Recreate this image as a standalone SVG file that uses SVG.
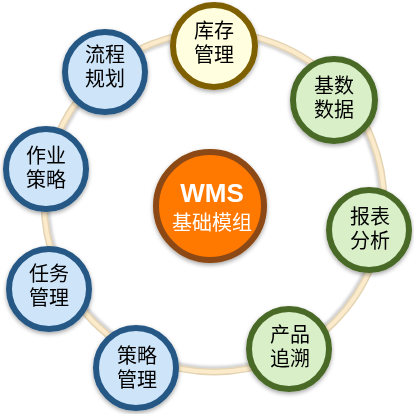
<svg xmlns="http://www.w3.org/2000/svg" width="414" height="414" viewBox="0 0 414 414">
<defs>
<filter id="sh" x="-30%" y="-30%" width="160%" height="160%"><feDropShadow dx="0" dy="2" stdDeviation="2" flood-color="#000" flood-opacity="0.35"/></filter>
<filter id="blur" x="-10%" y="-10%" width="120%" height="120%"><feGaussianBlur stdDeviation="1.5"/></filter>
</defs>
<style>
.t{font-family:"Noto Sans CJK SC","Noto Sans",sans-serif;font-size:20px;fill:#000;text-anchor:middle}
.y{fill:#FFFFDF;stroke:#7F6000;stroke-width:6}
.g{fill:#D8EFC8;stroke:#4A6B28;stroke-width:6}
.b{fill:#CDE4F9;stroke:#265886;stroke-width:6}
</style>
<g id="connectors">
<circle cx="214" cy="202" r="166" fill="none" stroke="#8a8a8a" stroke-width="3" opacity="0.5" filter="url(#blur)"/>
<circle cx="214" cy="202" r="170" fill="none" stroke="#E4D4B4" stroke-width="7"/>
<circle cx="214" cy="202" r="170" fill="none" stroke="#FCEBCB" stroke-width="4"/>
</g>
<g id="center" filter="url(#sh)">
<circle cx="210" cy="206" r="54" fill="#FF7800" stroke="#8C4A14" stroke-width="6"/>
<text x="212" y="202" style="font-family:'Liberation Sans',Arial,sans-serif;font-weight:bold;font-size:26px;fill:#fff;text-anchor:middle">WMS</text>
<text x="212" y="230" style="font-family:'Noto Sans CJK SC',sans-serif;font-size:20px;fill:#fff;text-anchor:middle">基础模组</text>
</g>
<g id="kucun" filter="url(#sh)"><circle class="y" cx="214" cy="46" r="41"/><text class="t" x="214" y="38">库存</text><text class="t" x="214" y="62">管理</text></g>
<g id="jishu" filter="url(#sh)"><circle class="g" cx="334" cy="100" r="41"/><text class="t" x="334" y="93">基数</text><text class="t" x="334" y="117">数据</text></g>
<g id="baobiao" filter="url(#sh)"><circle class="g" cx="369" cy="230" r="40"/><text class="t" x="370" y="224">报表</text><text class="t" x="370" y="248">分析</text></g>
<g id="chanpin" filter="url(#sh)"><circle class="g" cx="289" cy="349" r="40"/><text class="t" x="290" y="342">产品</text><text class="t" x="290" y="366">追溯</text></g>
<g id="celue" filter="url(#sh)"><circle class="b" cx="136" cy="368" r="40"/><text class="t" x="137" y="363">策略</text><text class="t" x="137" y="387">管理</text></g>
<g id="renwu" filter="url(#sh)"><circle class="b" cx="49" cy="289" r="40"/><text class="t" x="49" y="281">任务</text><text class="t" x="49" y="305">管理</text></g>
<g id="zuoye" filter="url(#sh)"><circle class="b" cx="46" cy="169" r="40"/><text class="t" x="46" y="163">作业</text><text class="t" x="46" y="187">策略</text></g>
<g id="liucheng" filter="url(#sh)"><circle class="b" cx="105" cy="72" r="40"/><text class="t" x="105" y="62">流程</text><text class="t" x="105" y="86">规划</text></g>
</svg>
